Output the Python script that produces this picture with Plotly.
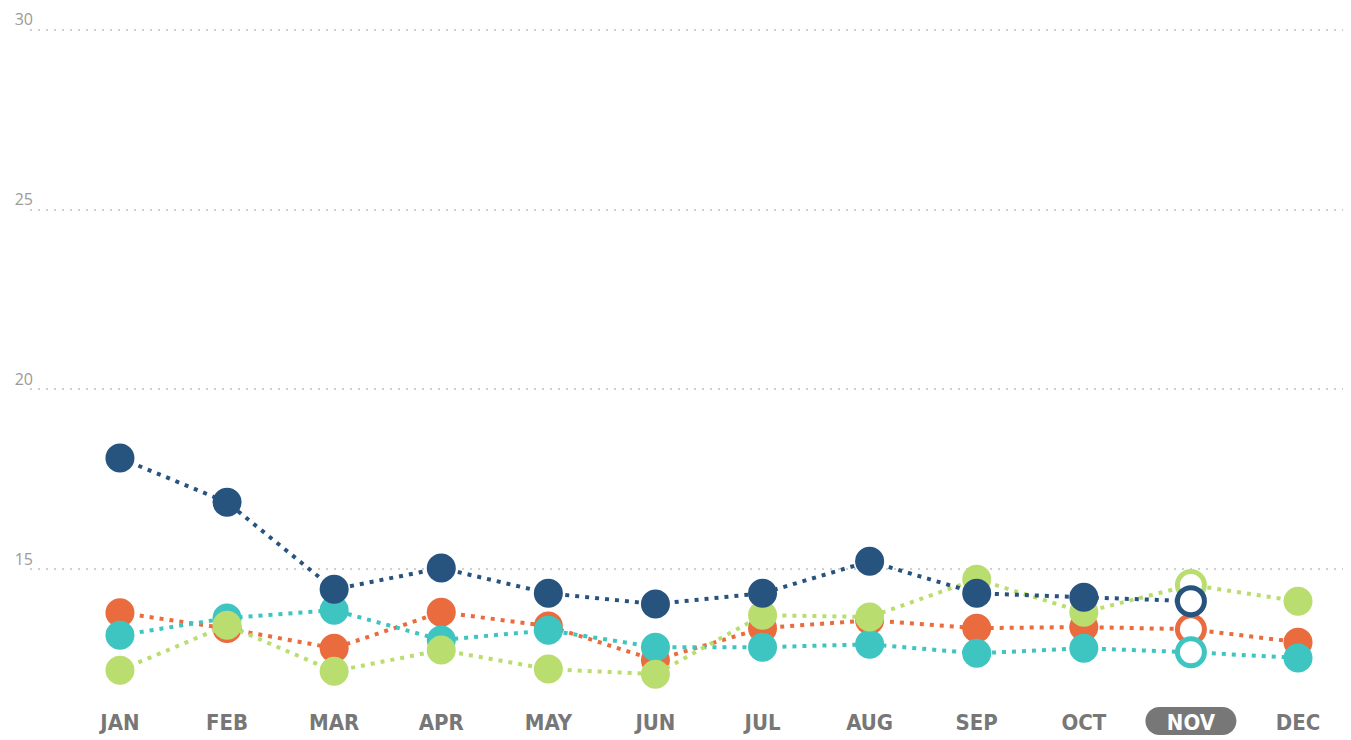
import plotly.graph_objects as go

months = ["JAN", "FEB", "MAR", "APR", "MAY", "JUN", "JUL", "AUG", "SEP", "OCT", "NOV", "DEC"]
current_month = "NOV"

navy = [18.09, 16.86, 14.44, 15.03, 14.33, 14.03, 14.33, 15.22, 14.33, 14.22, 14.11, None]
orange = [13.79, 13.35, 12.80, 13.80, 13.42, 12.47, 13.36, 13.58, 13.36, 13.39, 13.33, 12.97]
teal = [13.16, 13.64, 13.86, 13.03, 13.30, 12.83, 12.83, 12.91, 12.66, 12.80, 12.69, 12.53]
green = [12.19, 13.44, 12.16, 12.75, 12.22, 12.08, 13.72, 13.67, 14.72, 13.80, 14.56, 14.11]

y_ticks = [15, 20, 25, 30]

series = [
    ("orange", orange, "#e96b3e"),
    ("teal", teal, "#3ec5c1"),
    ("green", green, "#b9de6f"),
    ("navy", navy, "#27537f"),
]

x_idx = list(range(len(months)))
cur = months.index(current_month)

fig = go.Figure()
for name, vals, col in series:
    fill = ["white" if i == cur else col for i in x_idx]
    lw = [5 if i == cur else 0 for i in x_idx]
    sz = [27 if i == cur else 29 for i in x_idx]
    fig.add_trace(go.Scatter(
        x=x_idx, y=vals, name=name, mode="lines+markers",
        line=dict(color=col, width=4, dash="4px,6px"),
        marker=dict(size=sz, color=fill, line=dict(color=col, width=lw), opacity=1),
        hoverinfo="skip", showlegend=False, connectgaps=False,
    ))

ticktext = [("<span style='color:white'>%s</span>" % m) if m == current_month else m for m in months]

# rounded pill behind current month label (pixel coordinates relative to anchor)
k = 0.5523 * 14
hw, r, top, bot = 31.5, 14, -12, -40
mid = (top + bot) / 2
path = (
    f"M {-hw},{top} L {hw},{top} "
    f"C {hw + k},{top} {hw + r},{mid + k} {hw + r},{mid} "
    f"C {hw + r},{mid - k} {hw + k},{bot} {hw},{bot} "
    f"L {-hw},{bot} "
    f"C {-hw - k},{bot} {-hw - r},{mid - k} {-hw - r},{mid} "
    f"C {-hw - r},{mid + k} {-hw - k},{top} {-hw},{top} Z"
)
fig.add_shape(type="path", path=path, xref="x", yref="paper",
              xsizemode="pixel", ysizemode="pixel", xanchor=cur, yanchor=0,
              fillcolor="#777777", line=dict(width=0), layer="below")

fig.update_layout(
    width=1343, height=732,
    margin=dict(l=22, r=8, t=4, b=45),
    paper_bgcolor="white", plot_bgcolor="white",
    xaxis=dict(
        range=[-0.84, 11.42], tickvals=x_idx, ticktext=ticktext,
        showgrid=False, zeroline=False, showline=False, ticks="",
        tickfont=dict(family="Liberation Sans Narrow, DejaVu Sans Condensed, Roboto Condensed, Roboto, sans-serif",
                      size=22, color="#777777", weight="bold"),
        ticklabelstandoff=12, automargin=False,
    ),
    yaxis=dict(
        range=[11.5, 30.5], tickvals=y_ticks, ticktext=[str(v) for v in y_ticks],
        showgrid=True, gridcolor="#cfcfcf", gridwidth=2, griddash="2px,6px",
        zeroline=False, showline=False, ticks="",
        ticklabelposition="outside top", ticklabelstandoff=-4, ticklabelshift=1,
        ticklabeloverflow="allow",
        tickfont=dict(family="Open Sans", size=16, color="#9a9a9a"),
        automargin=False,
    ),
)

fig.write_html("out.html")
